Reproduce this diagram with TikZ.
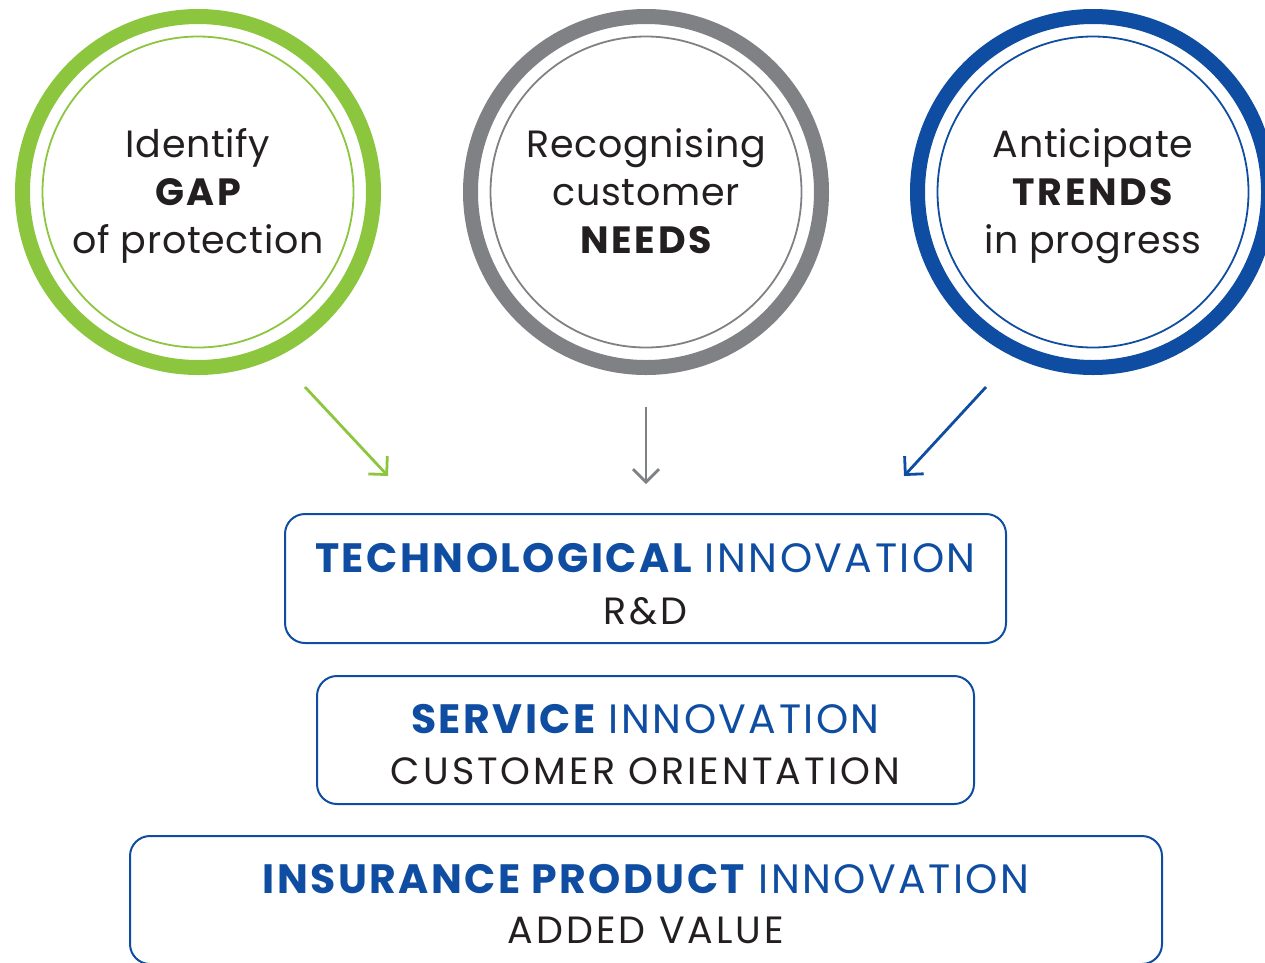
\documentclass[tikz,border=0pt]{standalone}
\usepackage{fontspec}
\setmainfont{Poppins}
\newfontfamily\circfont[LetterSpace=1.8, BoldFeatures={LetterSpace=7}]{Poppins}
\newfontfamily\headfont[LetterSpace=6, BoldFeatures={LetterSpace=6}]{Poppins}
\newfontfamily\subfont[LetterSpace=8]{Poppins}
\usetikzlibrary{arrows.meta}
\definecolor{ringgreen}{HTML}{8CC63F}
\definecolor{ringgray}{HTML}{808184}
\definecolor{ringblue}{HTML}{0E4DA1}
\definecolor{ink}{HTML}{231F20}
\begin{document}
\begin{tikzpicture}[x=1pt,y=-1pt,
  ring/.style={circle, inner sep=0pt, minimum size=351pt, line width=15pt, draw=#1},
  innerring/.style={circle, inner sep=0pt, minimum size=311pt, line width=1.8pt, draw=#1},
  circtext/.style={anchor=base, inner sep=0pt, text=ink, font=\circfont\fontsize{38}{44}\selectfont},
  panel/.style={draw=ringblue, line width=2pt, rounded corners=20pt, inner sep=0pt},
  headline/.style={anchor=base, inner sep=0pt, text=ringblue, font=\headfont\fontsize{41}{47}\selectfont},
  subline/.style={anchor=base, inner sep=0pt, text=ink, font=\subfont\fontsize{38}{44}\selectfont},
  flow/.style={draw=#1, line width=2.8pt, -{Straight Barb[length=13pt,width=26pt,line width=2.8pt]}}
]
\useasboundingbox (0,0) rectangle (1265,962);

% three source circles
\node[ring=ringgreen] (gapring) at (198,192) {};
\node[innerring=ringgreen] (gapinner) at (198,192) {};
\node[circtext] (gap1) at (198,157) {Identify};
\node[circtext] (gap2) at (198,205) {\bfseries GAP};
\node[circtext] (gap3) at (198,253) {of protection};

\node[ring=ringgray] (needring) at (646,192) {};
\node[innerring=ringgray] (needinner) at (646,192) {};
\node[circtext] (need1) at (646,157) {Recognising};
\node[circtext] (need2) at (646,205) {customer};
\node[circtext] (need3) at (646,253) {\bfseries NEEDS};

\node[ring=ringblue] (trendring) at (1093,192) {};
\node[innerring=ringblue] (trendinner) at (1093,192) {};
\node[circtext] (trend1) at (1093,157) {Anticipate};
\node[circtext] (trend2) at (1093,205) {\bfseries TRENDS};
\node[circtext] (trend3) at (1093,253) {in progress};

% arrows into the innovation stack
\coordinate (gapfrom) at (305,387);
\coordinate (gapto) at (388,476);
\coordinate (needfrom) at (646,407);
\coordinate (needto) at (646,484);
\coordinate (trendfrom) at (986,387);
\coordinate (trendto) at (904,476);
\draw[flow=ringgreen] (gapfrom) -- (gapto);
\draw[flow=ringgray] (needfrom) -- (needto);
\draw[flow=ringblue] (trendfrom) -- (trendto);

% innovation panels
\node[panel, minimum width=721pt, minimum height=129pt] (techbox) at (645.5,578.5) {};
\node[headline] (tech1) at (645.5,572) {\bfseries TECHNOLOGICAL\mdseries{} INNOVATION};
\node[subline] (tech2) at (645.5,624) {R\&D};

\node[panel, minimum width=657pt, minimum height=128pt] (servbox) at (645.5,740) {};
\node[headline] (serv1) at (645.5,733) {\bfseries SERVICE\mdseries{} INNOVATION};
\node[subline] (serv2) at (645.5,784) {CUSTOMER ORIENTATION};

\node[panel, minimum width=1032pt, minimum height=128pt] (prodbox) at (646,900) {};
\node[headline] (prod1) at (646,893) {\bfseries INSURANCE PRODUCT\mdseries{} INNOVATION};
\node[subline] (prod2) at (646,943) {ADDED VALUE};
\end{tikzpicture}
\end{document}
